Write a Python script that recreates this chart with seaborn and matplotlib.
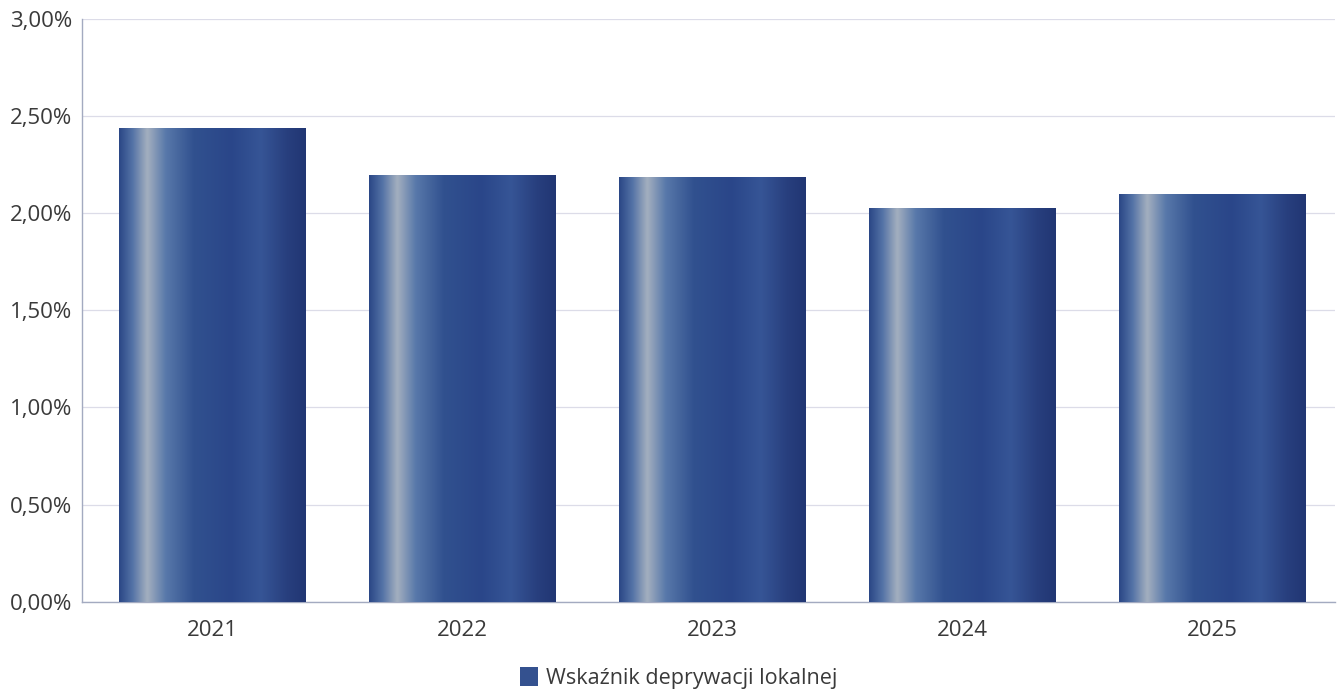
import numpy as np
import pandas as pd
import matplotlib
matplotlib.use("Agg")
import matplotlib.pyplot as plt
import seaborn as sns
from matplotlib.colors import LinearSegmentedColormap
from matplotlib.ticker import FuncFormatter
from matplotlib.patches import Patch

years = ["2021", "2022", "2023", "2024", "2025"]
values = [2.44, 2.20, 2.19, 2.03, 2.10]
series_name = "Wskaźnik deprywacji lokalnej"
y_ticks = [0.0, 0.5, 1.0, 1.5, 2.0, 2.5, 3.0]

df = pd.DataFrame({"rok": years, "wartosc": values})

sns.set_theme(style="white")
plt.rcParams["font.family"] = ["Open Sans", "DejaVu Sans"]

# cylinder-like shading across each bar
bar_cmap = LinearSegmentedColormap.from_list("cyl", [
    (0.00, "#2b4786"),
    (0.07, "#5372a6"),
    (0.15, "#a3afbf"),
    (0.25, "#5878aa"),
    (0.40, "#31518f"),
    (0.60, "#2a4689"),
    (0.76, "#365596"),
    (0.90, "#283f7e"),
    (1.00, "#213673"),
])

fig, ax = plt.subplots(figsize=(13.44, 6.93), dpi=100)
fig.subplots_adjust(left=0.061, right=0.993, top=0.972, bottom=0.132)

sns.barplot(data=df, x="rok", y="wartosc", ax=ax, width=0.745,
            color="#2e4a8e", saturation=1, zorder=2)

grad = np.linspace(0, 1, 256).reshape(1, -1)
for p in ax.patches:
    x0, w, h = p.get_x(), p.get_width(), p.get_height()
    ax.imshow(grad, extent=[x0, x0 + w, 0, h], aspect="auto",
              cmap=bar_cmap, zorder=3, interpolation="bicubic")
    p.set_visible(False)

ax.set_xlim(-0.52, 4.49)
ax.set_ylim(0, 3.0)
ax.set_yticks(y_ticks)
ax.yaxis.set_major_formatter(FuncFormatter(lambda v, _: f"{v:.2f}%".replace(".", ",")))

ax.grid(axis="y", color="#dcdce8", linewidth=0.9, zorder=0)
ax.set_axisbelow(True)
for side in ["top", "right"]:
    ax.spines[side].set_visible(False)
ax.spines["left"].set_color("#a3aac0")
ax.spines["bottom"].set_color("#a3aac0")
ax.spines["left"].set_linewidth(1.0)
ax.spines["bottom"].set_linewidth(1.0)

ax.tick_params(axis="both", length=0, labelsize=16, labelcolor="#3a3a3a")
ax.tick_params(axis="y", pad=7)
ax.tick_params(axis="x", pad=13)
ax.set_xlabel("")
ax.set_ylabel("")

handle = Patch(facecolor="#34518f", edgecolor="none", label=series_name)
fig.legend(handles=[handle], loc="lower center", bbox_to_anchor=(0.505, -0.022),
           frameon=False, fontsize=15.5, handlelength=0.85, handleheight=0.95,
           handletextpad=0.4, labelcolor="#3a3a3a")

fig.savefig("out.png", dpi=100)
